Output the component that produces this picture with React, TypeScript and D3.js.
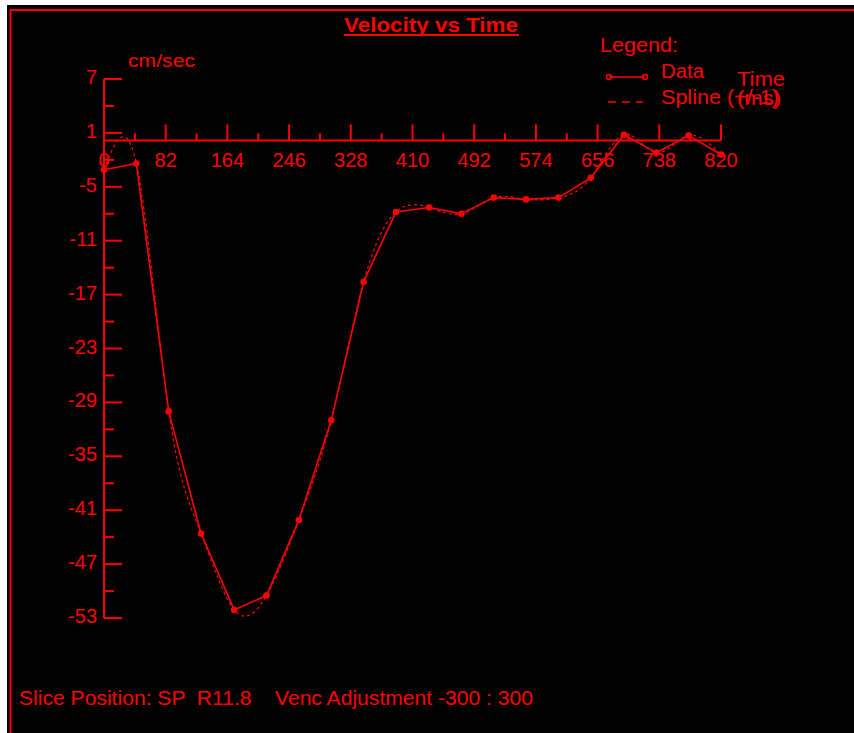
import React from 'react';
import * as d3 from 'd3';

// sample times (ms) and velocities (cm/sec)
const times = [0, 43, 86, 129, 173, 216, 259, 302, 345, 388, 432, 475, 518, 561, 604, 647, 691, 734, 777, 820];
const velocity = [-3.1, -2.4, -30.0, -43.6, -52.1, -50.5, -42.1, -31.0, -15.6, -7.8, -7.3, -8.0, -6.2, -6.4, -6.2, -4.0, 0.8, -1.2, 0.7, -1.4];

const xMajorTicks = [0, 82, 164, 246, 328, 410, 492, 574, 656, 738, 820];
const xMinorTicks = [41, 123, 205, 287, 369, 451, 533, 615, 697, 779];
const yMajorTicks = [7, 1, -5, -11, -17, -23, -29, -35, -41, -47, -53];
const yMinorTicks = [4, -2, -8, -14, -20, -26, -32, -38, -44, -50];

const RED = '#ff0000';
const FONT = '"Liberation Sans", Arial, sans-serif';

export default function App() {
  const width = 854;
  const height = 733;

  const x = d3.scaleLinear().domain([0, 820]).range([104, 721]);
  const y = d3.scaleLinear().domain([7, -53]).range([79, 618]);
  const axisY = y(0) - 1.5;

  const pts: [number, number][] = times.map((t, i) => [t, velocity[i]]);

  const dataLine = d3.line<[number, number]>()
    .x(d => x(d[0]))
    .y(d => y(d[1]));

  const splineLine = d3.line<[number, number]>()
    .x(d => x(d[0]))
    .y(d => y(d[1]))
    .curve(d3.curveNatural);

  return (
    <svg
      width={width}
      height={height}
      style={{ position: 'absolute', left: 0, top: 0, display: 'block' }}
      fontFamily={FONT}
    >
      <rect x={0} y={0} width={width} height={height} fill="#fff" />
      <rect x={7} y={5} width={width - 7} height={height - 5} fill="#000" />
      {/* frame (top and left edges only visible) */}
      <path d={`M10.5,${height} V10 H${width}`} fill="none" stroke={RED} strokeWidth={2} />

      {/* title */}
      <text x={344} y={32} fill={RED} fontSize={20} fontWeight="bold" textLength={174} lengthAdjust="spacingAndGlyphs">
        Velocity vs Time
      </text>
      <line x1={344} x2={519} y1={35} y2={35} stroke={RED} strokeWidth={2} />

      {/* unit label */}
      <text x={128} y={67} fill={RED} fontSize={19} textLength={67} lengthAdjust="spacingAndGlyphs">cm/sec</text>

      {/* y axis */}
      <line x1={x(0)} x2={x(0)} y1={y(7)} y2={y(-53)} stroke={RED} strokeWidth={2} />
      {yMajorTicks.map(v => (
        <g key={'ym' + v}>
          <line x1={x(0)} x2={x(0) + 18} y1={y(v)} y2={y(v)} stroke={RED} strokeWidth={2} />
          <text x={97} y={y(v) + 5} fill={RED} fontSize={20} textAnchor="end">{v}</text>
        </g>
      ))}
      {yMinorTicks.map(v => (
        <line key={'yn' + v} x1={x(0)} x2={x(0) + 10} y1={y(v)} y2={y(v)} stroke={RED} strokeWidth={2} />
      ))}

      {/* x axis */}
      <line x1={x(0)} x2={x(820)} y1={axisY} y2={axisY} stroke={RED} strokeWidth={2} />
      {xMajorTicks.map(t => (
        <g key={'xm' + t}>
          <line x1={x(t)} x2={x(t)} y1={axisY} y2={axisY - 16} stroke={RED} strokeWidth={2} />
          <text x={x(t)} y={axisY + 27} fill={RED} fontSize={20} textAnchor="middle">{t}</text>
        </g>
      ))}
      {xMinorTicks.map(t => (
        <line key={'xn' + t} x1={x(t)} x2={x(t)} y1={axisY} y2={axisY - 7} stroke={RED} strokeWidth={2} />
      ))}

      {/* spline (dashed) */}
      <path d={splineLine(pts) || ''} fill="none" stroke={RED} strokeWidth={1.2} strokeDasharray="3 3" />

      {/* data line + points */}
      <path d={dataLine(pts) || ''} fill="none" stroke={RED} strokeWidth={1.6} />
      {pts.map((p, i) => (
        <circle key={'p' + i} cx={x(p[0])} cy={y(p[1])} r={3.3} fill={RED} />
      ))}

      {/* legend */}
      <text x={600} y={52} fill={RED} fontSize={20} textLength={78} lengthAdjust="spacingAndGlyphs">Legend:</text>
      <line x1={609} x2={645} y1={77} y2={77} stroke={RED} strokeWidth={1.5} />
      <circle cx={609} cy={77} r={2.5} fill="none" stroke={RED} strokeWidth={1.5} />
      <circle cx={645} cy={77} r={2.5} fill="none" stroke={RED} strokeWidth={1.5} />
      <text x={661} y={78} fill={RED} fontSize={20} textLength={43} lengthAdjust="spacingAndGlyphs">Data</text>
      <line x1={608} x2={643} y1={102} y2={102} stroke={RED} strokeWidth={1.5} strokeDasharray="8 6" />
      <text x={661} y={104} fill={RED} fontSize={20} textLength={118} lengthAdjust="spacingAndGlyphs">Spline (+/-1)</text>

      {/* time axis title */}
      <text x={737} y={86} fill={RED} fontSize={20} textLength={48} lengthAdjust="spacingAndGlyphs">Time</text>
      <text x={737} y={105} fill={RED} fontSize={20} textLength={44} lengthAdjust="spacingAndGlyphs">(ms)</text>

      {/* footer */}
      <text x={19} y={705} fill={RED} fontSize={20} textLength={514} lengthAdjust="spacingAndGlyphs" style={{ whiteSpace: 'pre' }}>
        {'Slice Position: SP  R11.8    Venc Adjustment -300 : 300'}
      </text>
    </svg>
  );
}
